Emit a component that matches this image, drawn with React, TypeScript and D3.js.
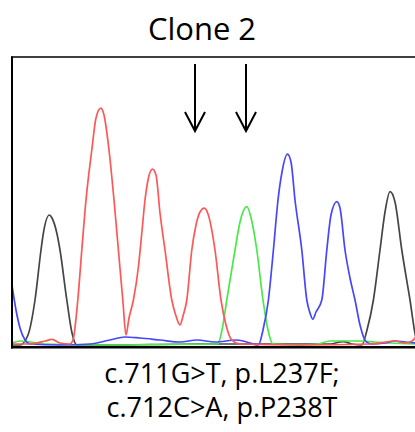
import React, { useEffect, useRef } from 'react';
import * as d3 from 'd3';

// trace samples: [scan, signal]
const blackTrace: [number, number][] = [
  [0, 5], [4, 5], [8, 55], [11.5, 230], [14.5, 480], [15.7, 565], [18.7, 655], [20, 640],
  [22.4, 565], [24, 480], [27.4, 230], [30, 65], [32.4, 5], [44, 5], [94, 10], [144, 10],
  [159, 10], [165.5, 22], [170, 10], [174.9, 5], [177.5, 80], [180.7, 230], [184, 480],
  [186.5, 670], [189, 772], [191.5, 720], [194.9, 480], [199, 230], [202, 40], [204, 5],
];

const redTrace: [number, number][] = [
  [0, 10], [9, 10], [16.5, 25], [20, 33], [24, 15], [29, 10], [30.5, 30], [32.9, 230],
  [34.9, 480], [37, 730], [39.9, 980], [42, 1140], [44.4, 1189], [46, 1155], [48.5, 980],
  [51, 730], [53.2, 480], [55.4, 230], [57, 55], [58.5, 140], [60.7, 230], [63.2, 395],
  [64.9, 565], [66.5, 730], [68, 830], [70.2, 884], [72, 855], [74, 665], [76.5, 480],
  [79.9, 230], [82, 150], [84, 105], [85.5, 150], [87.4, 230], [89.9, 480], [92, 605],
  [94, 670], [96.2, 689], [98, 660], [101.5, 480], [104.5, 230], [107, 105], [109.9, 30],
  [114, 10], [144, 5], [179, 10], [184, 15], [191.5, 25], [196.5, 15], [200, 25], [202, 45],
];

const greenTrace: [number, number][] = [
  [0, 15], [4, 25], [9, 20], [16.5, 10], [44, 5], [102.9, 10], [105, 80], [107.4, 230],
  [111.5, 480], [114, 620], [117.4, 697], [120, 620], [122.4, 480], [125.5, 230], [128, 80],
  [130.5, 10], [144, 5], [153, 10], [159, 25], [174, 25], [181.5, 20], [189, 15], [202, 10],
];

const blueTrace: [number, number][] = [
  [0, 305], [2, 180], [4, 90], [6.5, 30], [9, 10], [24, 5], [39, 10], [49, 30], [56.5, 45],
  [64, 40], [74, 30], [84, 20], [92.5, 30], [101.5, 20], [112.5, 30], [119, 15], [123.2, 5],
  [125.5, 80], [128.2, 230], [130.7, 480], [133, 730], [135, 870], [137.7, 959], [139.5, 920],
  [141.5, 730], [144.9, 480], [147.4, 230], [149, 165], [150.4, 134], [152, 170], [154.9, 230],
  [157.4, 480], [159.5, 655], [162.4, 722], [164, 690], [166.5, 480], [169, 340], [171.5, 230],
  [174, 105], [177, 22], [180, 10], [186.5, 15], [191.5, 25], [196.5, 20], [202, 15],
];

const traces = [
  { name: 'T', color: '#454545', data: blackTrace },
  { name: 'A', color: '#4ae84a', data: greenTrace },
  { name: 'C', color: '#4646ff', data: blueTrace },
  { name: 'G', color: '#ff5757', data: redTrace },
];

// mutated positions (scan)
const arrowScans = [91.5, 117];
const title = 'Clone 2';
const mutationLines = ['c.711G>T, p.L237F;', 'c.712C>A, p.P238T'];

const App = () => {
  const ref = useRef<SVGSVGElement>(null);

  useEffect(() => {
    const width = 415;
    const height = 432;
    const svg = d3.select(ref.current);
    svg.selectAll('*').remove();

    const x = d3.scaleLinear().domain([0, 202]).range([12, 416]);
    const y = d3.scaleLinear().domain([0, 1445]).range([346, 57]);

    svg.append('rect').attr('width', width).attr('height', height).attr('fill', '#fff');

    svg.append('defs').append('clipPath').attr('id', 'plot-clip')
      .append('rect')
      .attr('x', 13).attr('y', 57)
      .attr('width', width - 13).attr('height', 290);

    const line = d3.line<[number, number]>()
      .x(d => x(d[0]))
      .y(d => y(d[1]))
      .curve(d3.curveMonotoneX);

    svg.append('g')
      .attr('clip-path', 'url(#plot-clip)')
      .selectAll('path')
      .data(traces)
      .enter()
      .append('path')
      .attr('d', d => line(d.data))
      .attr('fill', 'none')
      .attr('stroke', d => d.color)
      .attr('stroke-width', 1.7)
      .attr('stroke-linejoin', 'round');

    // frame (open on the right)
    const frame = svg.append('g').attr('stroke', '#000').attr('fill', 'none');
    frame.append('line').attr('x1', 11).attr('x2', width + 5).attr('y1', 57).attr('y2', 57).attr('stroke-width', 1.5);
    frame.append('line').attr('x1', 12).attr('x2', 12).attr('y1', 56.5).attr('y2', 348.5).attr('stroke-width', 2);
    frame.append('line').attr('x1', 11).attr('x2', width + 5).attr('y1', 347.2).attr('y2', 347.2).attr('stroke-width', 2.4);

    // arrows
    const arrows = svg.append('g').attr('stroke', '#000').attr('stroke-width', 2).attr('fill', 'none');
    arrowScans.forEach(s => {
      const ax = x(s);
      arrows.append('line').attr('x1', ax).attr('x2', ax).attr('y1', 64).attr('y2', 131);
      arrows.append('path').attr('d', `M${ax - 10},112 L${ax},131 L${ax + 10},112`);
    });

    svg.append('text')
      .attr('x', 202)
      .attr('y', 40)
      .attr('text-anchor', 'middle')
      .attr('font-family', '"Open Sans", sans-serif')
      .attr('font-size', 31)
      .attr('fill', '#000')
      .text(title);

    svg.append('g')
      .selectAll('text')
      .data(mutationLines)
      .enter()
      .append('text')
      .attr('x', 222)
      .attr('y', (d, i) => 383 + i * 34)
      .attr('text-anchor', 'middle')
      .attr('font-family', '"Open Sans", sans-serif')
      .attr('font-size', 27)
      .attr('fill', '#000')
      .text(d => d);
  }, []);

  return (
    <svg ref={ref} width={415} height={432} style={{ position: 'absolute', left: 0, top: 0 }} />
  );
};

export default App;
